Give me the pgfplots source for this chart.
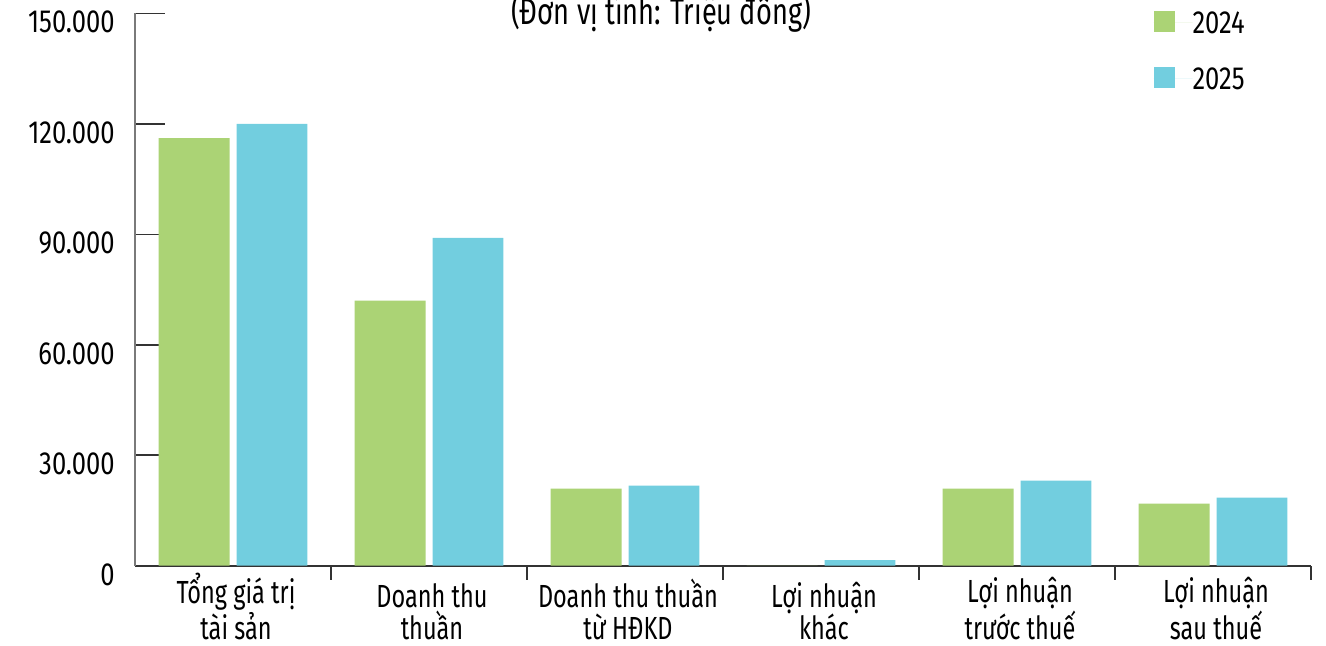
\documentclass[border=0pt]{standalone}
\usepackage{fontspec}
\setmainfont{Fira Sans}[FakeStretch=0.735]
\newfontfamily\numfont{Fira Sans}[FakeStretch=0.8]
\usepackage{pgfplots}
\pgfplotsset{compat=1.18}
\definecolor{cgreen}{HTML}{ABD375}
\definecolor{cblue}{HTML}{72CEDF}
\definecolor{axgray}{HTML}{7A7A7A}
\definecolor{axdark}{HTML}{333333}

\begin{document}
\begin{tikzpicture}
\begin{axis}[
  scale only axis, width=588.5pt, height=276.25pt,
  xmin=-0.5, xmax=5.5, ymin=0, ymax=150000,
  axis lines=left, axis line style={-},
  x axis line style={color=axdark, line width=1pt},
  y axis line style={color=axgray, line width=1pt},
  tick align=inside,
  ytick={0,30000,60000,90000,120000,150000},
  scaled y ticks=false,
  major tick length=15pt,
  ytick style={color=axdark, line width=0.8pt},
  yticklabel style={anchor=base east, inner sep=0pt, xshift=-10pt, yshift=-9.75pt, font=\numfont\fontsize{16pt}{16pt}\selectfont,
    /pgf/number format/.cd, fixed, precision=0, 1000 sep={.}, assume math mode=true},
  xtick={0,1,2,3,4,5},
  xticklabels={{Tổng giá trị\\tài sản},{Doanh thu\\thuần},{Doanh thu thuần\\từ HĐKD},{Lợi nhuận\\khác},{Lợi nhuận\\trước thuế},{Lợi nhuận\\sau thuế}},
  major x tick style={draw=none},
  minor xtick={0.5,1.5,2.5,3.5,4.5,5.5},
  minor tick length=7pt,
  minor x tick style={color=axdark, line width=0.8pt},
  xticklabel style={anchor=base, inner sep=0pt, yshift=-22pt, xshift=1.5pt, align=center, font=\fontsize{16pt}{16pt}\selectfont},
  ybar=3.5pt, bar width=35.5pt,
  clip=false,
  legend style={draw=none, fill=none, at={(0.8658,1.0045)}, anchor=north west, inner sep=0pt, row sep=17pt,
    nodes={inner sep=0pt, text height=11pt, text depth=0pt, font=\numfont\fontsize{16pt}{16pt}\selectfont}},
  legend cell align=left,
  legend image code/.code={\fill[#1] (0pt,-5pt) rectangle (10.5pt,5.5pt); \path (0pt,0pt) -- (19.5pt,0pt);},
]
\addplot[fill=cgreen, draw=none] coordinates {(0,116100) (1,72000) (2,20900) (3,0) (4,20900) (5,16850)};
\addplot[fill=cblue, draw=none] coordinates {(0,120000) (1,89050) (2,21700) (3,1440) (4,23080) (5,18460)};
\legend{2024,2025}
\node[anchor=base, inner sep=0pt, font=\fontsize{18.5pt}{18.5pt}\selectfont] at (axis cs:2.184,146878) {(Đơn vị tính: Triệu đồng)};
\coordinate (bl) at (axis cs:-1.1888,-21719);
\coordinate (tr) at (axis cs:5.5765,153665);
\end{axis}
\pgfresetboundingbox
\path[use as bounding box] (bl) rectangle (tr);
\end{tikzpicture}
\end{document}
